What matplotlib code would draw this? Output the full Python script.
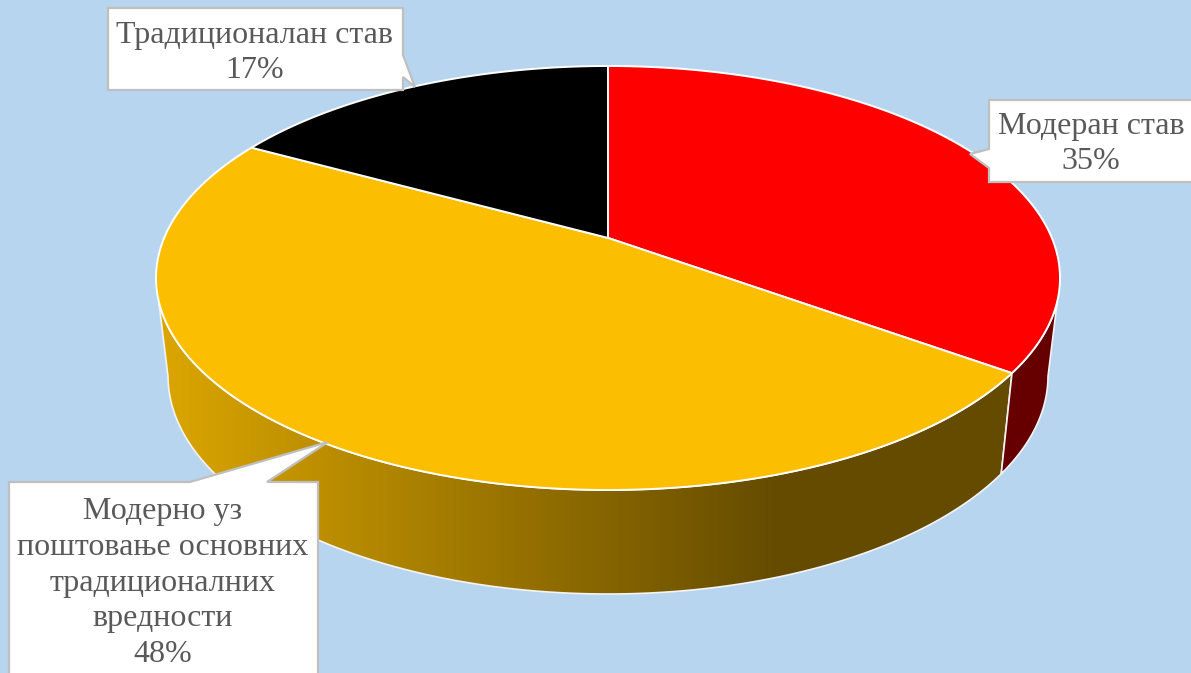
import numpy as np
import matplotlib
matplotlib.use("Agg")
import matplotlib.pyplot as plt
from matplotlib.patches import Polygon
from matplotlib.colors import LinearSegmentedColormap

categories = ["Модеран став", "Модерно уз\nпоштовање основних\nтрадиционалних\nвредности", "Традиционалан став"]
values = [35, 48, 17]
top_colors = ["#FF0000", "#FBBE00", "#000000"]

BG = "#B8D5F0"
TEXT = "#595959"
EDGE = "#BFBFBF"

# pie geometry in image pixels
CX = 608
TOP_CY, TOP_A, TOP_B = 278, 452, 212
BOT_CY, BOT_A, BOT_B = 376, 440, 218
PERSP = 0.189  # how far the pie centre is pushed back by the perspective


def project(theta_deg, cy, a, b):
    # theta clockwise from 12 o'clock on the round pie
    t = np.radians(theta_deg)
    u, v = np.sin(t), np.cos(t)
    d = 1 + v * PERSP
    return CX + a * u * np.sqrt(1 - PERSP ** 2) / d, cy - b * (v + PERSP) / d


def arc(t0, t1, cy, a, b):
    x, y = project(np.linspace(t0, t1, 200), cy, a, b)
    return np.column_stack([x, y])


def wall(t0, t1, b0, b1):
    return np.vstack([arc(t0, t1, TOP_CY, TOP_A, TOP_B), arc(b1, b0, BOT_CY, BOT_A, BOT_B)])


fig = plt.figure(figsize=(11.91, 6.73), dpi=100)
fig.patch.set_facecolor(BG)
ax = fig.add_axes([0, 0, 1, 1])
ax.set_facecolor(BG)

bounds = np.cumsum([0] + values) / sum(values) * 360
apex = np.array([CX, TOP_CY - TOP_B * PERSP])

# side walls, only the part facing the viewer
orange_wall = Polygon(wall(bounds[1], 253, bounds[1], 259), closed=True, fc="none", ec="none", zorder=2)
ax.add_patch(orange_wall)
cmap = LinearSegmentedColormap.from_list("wall", ["#DBA600", "#644B00"])
grad = np.clip((np.arange(160, 1060) - 160) / (780 - 160), 0, 1)[None, :]
im = ax.imshow(grad, extent=(160, 1060, 600, 270), cmap=cmap, aspect="auto", zorder=2, vmin=0, vmax=1)
im.set_clip_path(orange_wall)
ax.add_patch(Polygon(wall(bounds[1], 253, bounds[1], 259), closed=True, fc="none", ec="#F4F4F4", lw=1.2, zorder=3))
ax.add_patch(Polygon(wall(107, bounds[1], 101, bounds[1]), closed=True, fc="#660000", ec="#F4F4F4", lw=1.2, zorder=3))

# top face
for i, color in enumerate(top_colors):
    pts = np.vstack([apex, arc(bounds[i], bounds[i + 1], TOP_CY, TOP_A, TOP_B)])
    ax.add_patch(Polygon(pts, closed=True, fc=color, ec="white", lw=1.4, joinstyle="round", zorder=4))


def callout(pts, label, tx, ty):
    ax.add_patch(Polygon(pts, closed=True, fc="white", ec=EDGE, lw=1.6, joinstyle="miter", zorder=5))
    ax.text(tx, ty, label, ha="center", va="center", color=TEXT, fontsize=23,
            family="Liberation Serif", linespacing=1.31, zorder=6)


labels = [f"{c}\n{v}%" for c, v in zip(categories, values)]
callout([(989, 100), (1195, 100), (1195, 182), (989, 182), (989, 168), (970, 154), (989, 149)], labels[0], 1091, 144)
callout([(9, 482), (190, 482), (328, 442), (267, 482), (318, 482), (318, 680), (9, 680)], labels[1], 163, 583)
callout([(108, 8), (403, 8), (403, 55), (415, 87), (403, 77), (403, 90), (108, 90)], labels[2], 255, 53)

ax.set_xlim(0, 1191)
ax.set_ylim(673, 0)
ax.axis("off")
fig.savefig("out.png", dpi=100, facecolor=BG)
plt.close(fig)
